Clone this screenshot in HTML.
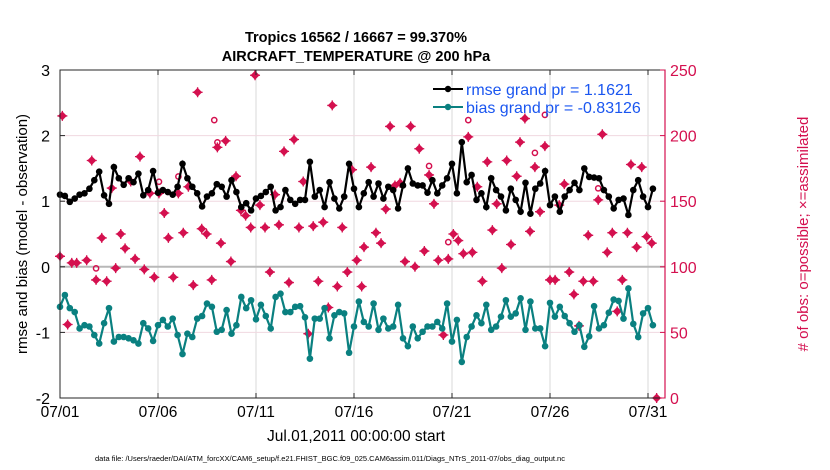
<!DOCTYPE html>
<html><head><meta charset="utf-8"><style>
html,body{margin:0;padding:0;background:#fff;}
svg{display:block;font-family:"Liberation Sans",Arial,sans-serif;}
</style></head><body>
<svg id="chart" width="830" height="470" viewBox="0 0 830 470">
<text x="356" y="42" text-anchor="middle" font-size="14.5" font-weight="bold">Tropics 16562 / 16667 = 99.370%</text>
<text x="356" y="61" text-anchor="middle" font-size="14.5" font-weight="bold">AIRCRAFT_TEMPERATURE @ 200 hPa</text>
<g id="grid"></g>
<g id="marks"></g>
<g id="axes"></g>
<g>
<line x1="433" y1="89" x2="463" y2="89" stroke="#000" stroke-width="2"/>
<circle cx="448" cy="89" r="3.2" fill="#000"/>
<text x="466" y="95" font-size="16" fill="#1a56f0">rmse grand pr = 1.1621</text>
<line x1="433" y1="107" x2="463" y2="107" stroke="#0a8080" stroke-width="2"/>
<circle cx="448" cy="107" r="3.2" fill="#0a8080"/>
<text x="466" y="113" font-size="16" fill="#1a56f0">bias grand pr = -0.83126</text>
</g>
<text transform="translate(27,234) rotate(-90)" text-anchor="middle" font-size="15">rmse and bias (model - observation)</text>
<text transform="translate(808,234) rotate(-90)" text-anchor="middle" font-size="15" fill="#d4104f"># of obs: o=possible; ×=assimilated</text>
<text x="356" y="441" text-anchor="middle" font-size="15.5">Jul.01,2011 00:00:00 start</text>
<text x="330" y="461" text-anchor="middle" font-size="7.5">data file: /Users/raeder/DAI/ATM_forcXX/CAM6_setup/f.e21.FHIST_BGC.f09_025.CAM6assim.011/Diags_NTrS_2011-07/obs_diag_output.nc</text>
</svg>
<script>
const rmseValues=[1.10,1.08,0.99,1.04,1.10,1.12,1.19,1.32,1.45,1.09,0.96,1.52,1.35,1.25,1.35,1.29,1.42,1.09,1.17,1.46,1.13,1.17,1.14,1.10,1.22,1.57,1.35,1.22,1.12,0.92,1.07,1.12,
1.26,1.22,1.07,1.32,1.14,0.91,0.97,0.86,1.04,1.08,1.14,1.22,0.86,0.91,1.17,1.02,0.96,1.02,1.02,1.60,1.07,1.17,0.91,1.29,1.04,0.89,1.07,1.57,1.19,0.91,1.12,
1.29,1.07,1.27,1.04,1.22,1.17,0.89,1.24,1.50,1.27,1.24,1.24,1.13,1.32,1.12,1.24,1.35,1.57,1.12,1.90,1.29,1.40,1.02,1.12,0.91,1.35,1.17,1.07,0.86,1.19,1.02,
0.84,1.28,0.81,1.19,1.27,1.46,0.94,1.07,0.84,1.07,1.17,1.28,1.17,1.50,1.37,1.36,1.35,1.17,1.07,0.89,1.02,1.04,0.79,1.17,1.32,1.07,0.91,1.19];
const biasValues=[-0.61,-0.43,-0.63,-0.69,-0.94,-0.89,-0.91,-1.04,-1.17,-0.86,-0.63,-1.14,-1.07,-1.07,-1.09,-1.12,-1.17,-0.86,-0.94,-1.13,-0.89,-0.81,-0.91,-0.79,-1.04,-1.33,-1.02,-1.07,-0.79,-0.75,-0.56,-0.61,
-0.99,-0.96,-0.66,-1.02,-0.89,-0.46,-0.63,-0.51,-0.80,-0.58,-0.75,-0.94,-0.46,-0.41,-0.69,-0.69,-0.61,-0.60,-0.77,-1.40,-0.79,-0.79,-0.63,-1.09,-0.74,-0.69,-0.71,-1.31,-0.91,-0.53,-0.84,
-0.91,-0.56,-0.96,-0.79,-0.94,-0.91,-0.58,-1.09,-1.21,-0.91,-1.09,-0.99,-0.91,-0.91,-0.84,-0.94,-0.56,-1.14,-0.81,-1.45,-1.07,-0.91,-0.74,-0.86,-0.58,-0.96,-0.91,-0.76,-0.51,-0.76,-0.71,
-0.48,-0.96,-0.53,-0.94,-0.94,-1.21,-0.55,-0.76,-0.61,-0.75,-0.86,-0.99,-0.89,-1.22,-1.06,-0.60,-0.94,-0.89,-0.70,-0.50,-0.52,-0.79,-0.33,-0.87,-1.07,-0.71,-0.63,-0.89];
const obsDays=[0.0,0.12,0.39,0.60,0.85,1.36,1.62,1.84,2.13,2.38,2.64,2.84,3.10,3.32,3.61,3.83,4.08,4.30,4.59,4.81,5.05,5.32,5.53,5.78,6.04,6.29,6.55,6.80,7.02,7.23,7.48,7.74,8.03,8.21,8.45,8.72,8.98,9.23,9.47,9.73,9.95,10.20,10.46,10.71,10.97,11.17,11.43,11.68,11.94,12.19,12.41,12.67,12.92,13.18,13.43,13.69,13.89,14.15,14.40,14.66,14.90,15.14,15.39,15.51,15.87,16.12,16.38,16.62,16.84,17.09,17.35,17.60,17.89,18.11,18.33,18.59,18.83,19.08,19.30,19.56,19.81,20.07,20.32,20.58,20.83,21.04,21.29,21.55,21.80,22.06,22.28,22.54,22.79,23.01,23.30,23.47,23.72,23.98,24.23,24.49,24.74,25.0,25.26,25.47,25.73,25.98,26.22,26.48,26.70,26.95,27.21,27.46,27.67,27.92,28.18,28.43,28.69,28.95,29.13,29.42,29.68,29.93,30.19,30.44];
const obsCounts=[108,215,56,103,103,105,181,90,122,89,160,99,125,114,165,106,184,98,156,92,156,141,122,92,156,126,161,86,233,129,125,90,191,118,196,104,169,143,139,130,246,147,130,96,155,132,188,88,197,130,165,49,131,89,134,69,223,85,130,96,174,105,85,115,176,126,118,144,207,162,164,104,207,100,190,112,170,148,105,48,106,125,120,110,199,111,161,89,180,128,148,99,181,117,169,195,213,127,176,142,192,90,90,147,163,96,79,55,89,124,89,151,201,111,126,66,90,126,178,115,176,123,118,0];
const possibleDays=[1.84,5.05,6.04,7.87,18.83,19.81,20.83,24.23,24.74,27.46,8.03];
const possibleCounts=[95,161,165,208,173,115,208,183,212,156,191];
const xTickLabels=["07/01","07/06","07/11","07/16","07/21","07/26","07/31"];
const xTickDays=[0,5,10,15,20,25,30];
const yTickLabels=["-2","-1","0","1","2","3"];
const yTickValues=[-2,-1,0,1,2,3];
const rTickLabels=["0","50","100","150","200","250"];
const rTickValues=[0,50,100,150,200,250];

const L=60,R=665,T=70,B=398,STEP=0.25;
const xS=d=>L+d*19.6;
const yS=v=>B-(v+2)*(B-T)/5;
const yR=c=>B-c*(B-T)/250;
const NS="http://www.w3.org/2000/svg";
function mk(tag,attrs,parent){const e=document.createElementNS(NS,tag);for(const k in attrs)e.setAttribute(k,attrs[k]);parent.appendChild(e);return e;}
const grid=document.getElementById('grid'),marks=document.getElementById('marks'),axes=document.getElementById('axes');
const MAG="#d4104f";
xTickDays.forEach((d,i)=>{
 const g=mk('line',{x1:xS(d),x2:xS(d),y1:T,y2:B,stroke:'#d9d9d9','stroke-width':1},grid);
 
 
});
rTickValues.forEach((c,i)=>{
 const g=mk('line',{x1:L,x2:R,y1:yR(c),y2:yR(c),stroke:'#f0d8e0','stroke-width':1},grid);
 
 
});
const zl=mk('line',{x1:L,x2:R,y1:yS(0),y2:yS(0),stroke:'#b8b8b8','stroke-width':2},grid);



// obs counts
obsDays.forEach((d,i)=>{
 const x=xS(d),y=yR(obsCounts[i]);
 const g=mk('g',{},marks);
 
 
 mk('path',{d:`M${x-4.5},${y}L${x},${y-4.5}L${x+4.5},${y}L${x},${y+4.5}Z`,fill:MAG},g);
 mk('path',{d:`M${x-5},${y}H${x+5}M${x},${y-5}V${y+5}`,stroke:MAG,'stroke-width':1.3},g);
});
possibleDays.forEach((d,i)=>{
 const c=mk('circle',{cx:xS(d),cy:yR(possibleCounts[i])-5,r:2.6,fill:'none',stroke:MAG,'stroke-width':1.5},marks);
 
 
});
function series(vals,color,name){
 const pts=vals.map((v,i)=>xS(i*STEP).toFixed(1)+','+yS(v).toFixed(1)).join(' ');
 const pl=mk('polyline',{points:pts,fill:'none',stroke:color,'stroke-width':2.2},marks);
 
 
 vals.forEach((v,i)=>{
  const c=mk('circle',{cx:xS(i*STEP),cy:yS(v),r:3.3,fill:color},marks);
  
  
 });
}
series(rmseValues,'#000','rmse');
series(biasValues,'#0a8080','bias');

// axes box
const box=mk('rect',{x:L,y:T,width:R-L,height:B-T,fill:'none',stroke:'#262626','stroke-width':1},axes);


const ra=mk('line',{x1:R,x2:R,y1:T,y2:B,stroke:MAG,'stroke-width':1.2},axes);


xTickDays.forEach((d,i)=>{
 mk('line',{x1:xS(d),x2:xS(d),y1:B,y2:B-5,stroke:'#262626'},axes);
 mk('line',{x1:xS(d),x2:xS(d),y1:T,y2:T+5,stroke:'#262626'},axes);
 const t=mk('text',{x:xS(d),y:B+19,'text-anchor':'middle','font-size':15.5},axes);
 t.textContent=xTickLabels[i];
 
 
});
yTickValues.forEach((v,i)=>{
 mk('line',{x1:L,x2:L+5,y1:yS(v),y2:yS(v),stroke:'#262626'},axes);
 const t=mk('text',{x:L-10,y:yS(v)+6,'text-anchor':'end','font-size':16},axes);
 t.textContent=yTickLabels[i];
 
 
});
rTickValues.forEach((c,i)=>{
 mk('line',{x1:R,x2:R-5,y1:yR(c),y2:yR(c),stroke:MAG},axes);
 const t=mk('text',{x:R+5,y:yR(c)+6,'font-size':16,fill:MAG},axes);
 t.textContent=rTickLabels[i];
 
 
});
</script>
</body></html>
